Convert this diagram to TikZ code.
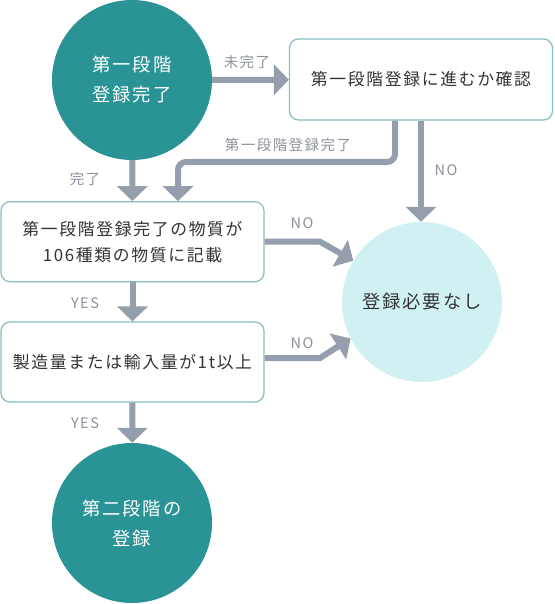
\documentclass[tikz,border=0pt]{standalone}
\usepackage{fontspec}
\newfontfamily\jpfont[LetterSpace=10]{Noto Sans CJK JP}
\usepackage{xcolor}
\usepackage{tikz}
\usetikzlibrary{arrows.meta,positioning,calc}

\definecolor{tealfill}{HTML}{2A9396}
\definecolor{palefill}{HTML}{D0F0F1}
\definecolor{arrowgray}{HTML}{959EAD}
\definecolor{boxline}{HTML}{86BFC3}
\definecolor{labelgray}{HTML}{8C919B}
\definecolor{textdark}{HTML}{333333}

\begin{document}
\begin{tikzpicture}[
    x=1pt, y=-1pt,
    darkcircle/.style={circle, fill=tealfill, minimum size=160pt, inner sep=0pt, align=center, text=white, font=\jpfont\fontsize{18.3}{30}\selectfont},
    palecircle/.style={circle, fill=palefill, minimum size=160pt, inner sep=0pt, align=center, text=textdark, font=\jpfont\fontsize{18.3}{30}\selectfont},
    box/.style={rectangle, draw=boxline, line width=1.2pt, rounded corners=9pt, minimum width=263pt, minimum height=80pt, align=center, fill=white, text=textdark, font=\jpfont\fontsize{16.8}{26}\selectfont},
    lbl/.style={text=labelgray, font=\jpfont\fontsize{14.5}{16}\selectfont, inner sep=0pt},
    arrow/.style={-{Triangle[width=30pt,length=15pt]}, line width=6pt, draw=arrowgray}
]
\useasboundingbox (0,0) rectangle (554,604);

% Start
\node[darkcircle] (done1) at (132,80) {第一段階\\登録完了};

% Check
\node[box, minimum height=81pt] (check) at (421,79.5) {第一段階登録に進むか確認};

% Questions
\node[box] (listed) at (132.5,241.7) {第一段階登録完了の物質が\\106種類の物質に記載};
\node[box] (amount) at (132.5,362) {製造量または輸入量が1t以上};

% Results
\node[palecircle] (noreg) at (422,302) {登録必要なし};
\node[darkcircle] (stage2) at (132,523) {第二段階の\\登録};

\coordinate (bend) at (178,162);
\coordinate (kink1) at (320,241.7);
\coordinate (kink2) at (320,358);

% Arrows
\draw[arrow] (done1) -- (check);
\draw[arrow] (done1) -- (listed);
\draw[arrow, rounded corners=8pt] ([xshift=-26pt]check.south) |- (bend) -- (bend |- listed.north);
\draw[arrow] (check.south) -- (check.south |- noreg.north);
\draw[arrow] (listed.east) -- (kink1) -- (noreg.149);
\draw[arrow] (amount.east |- kink2) -- (kink2) -- (noreg.207);
\draw[arrow] (listed) -- (amount);
\draw[arrow] (amount) -- (stage2);

% Labels
\node[lbl] at (247,62) {未完了};
\node[lbl] at (288,145) {第一段階登録完了};
\node[lbl] at (85,179) {完了};
\node[lbl] at (446,170) {NO};
\node[lbl] at (302,223) {NO};
\node[lbl] at (302,343) {NO};
\node[lbl] at (85,303) {YES};
\node[lbl] at (85,423) {YES};

\end{tikzpicture}
\end{document}
